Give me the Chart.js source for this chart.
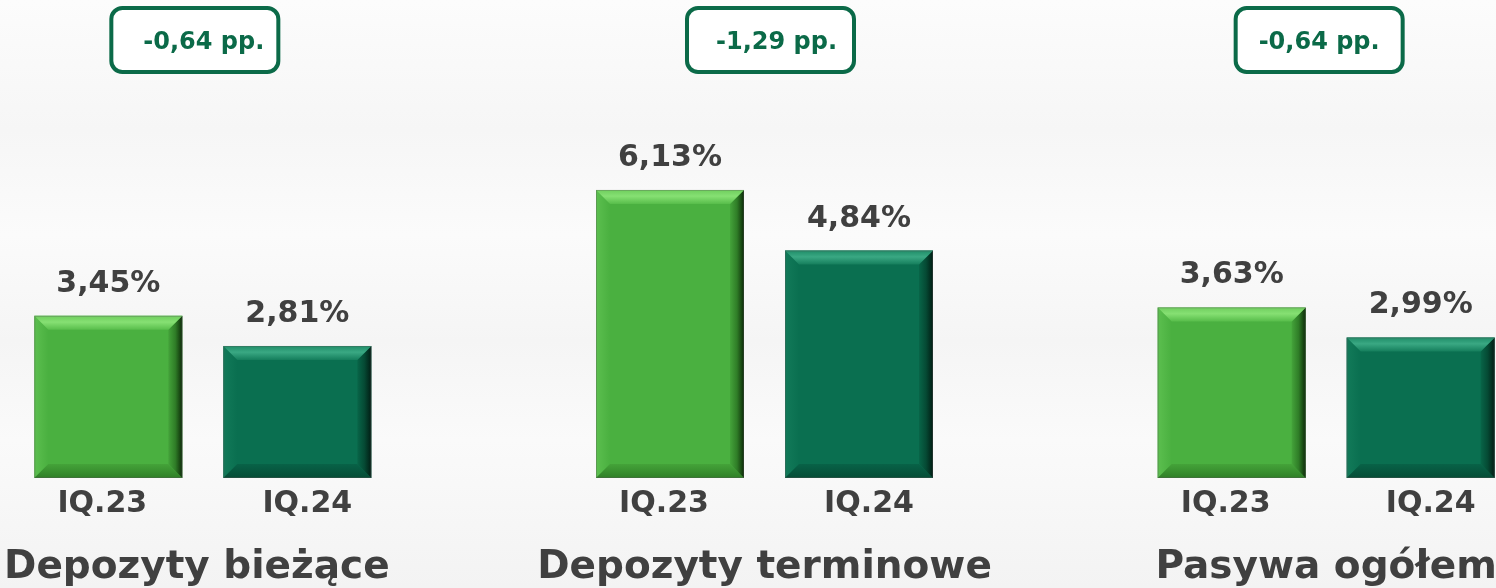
<!DOCTYPE html>
<html><head><meta charset="utf-8">
<script src="https://cdn.jsdelivr.net/npm/chart.js@4"></script>
<style>
html,body{margin:0;padding:0;width:1496px;height:588px;overflow:hidden;}
#wrap{position:relative;width:1496px;height:588px;overflow:hidden;
 background:linear-gradient(180deg,#fcfcfc 0%,#f6f6f6 22%,#fbfbfb 40%,#f5f5f5 58%,#fafafa 75%,#f3f3f3 100%);}
#c{position:absolute;left:-78px;top:0;}
</style></head><body>
<div id="wrap"><canvas id="c" width="1685" height="588"></canvas></div>
<script>
const categories = ['Depozyty bieżące', 'Depozyty terminowe', 'Pasywa ogółem'];
const seriesNames = ['IQ.23', 'IQ.24'];
const valuesIQ23 = [3.45, 6.13, 3.63];
const valuesIQ24 = [2.81, 4.84, 2.99];
const changes = ['-0,64 pp.', '-1,29 pp.', '-0,64 pp.'];

const FONT = '"DejaVu Sans", sans-serif';
const TEXT = '#404040';
const BOXC = '#0b6a48';

function fmt(v){ return v.toFixed(2).replace('.', ',') + '%'; }

function poly(ctx, pts, fill){
  ctx.beginPath();
  ctx.moveTo(pts[0][0], pts[0][1]);
  for (let i=1;i<pts.length;i++) ctx.lineTo(pts[i][0], pts[i][1]);
  ctx.closePath();
  ctx.fillStyle = fill;
  ctx.fill();
}

const bevelPlugin = {
  id: 'bevel',
  afterDatasetsDraw(chart){
    const ctx = chart.ctx;
    ctx.save();
    chart.data.datasets.forEach((ds, di) => {
      const meta = chart.getDatasetMeta(di);
      const bv = ds.bevel;
      meta.data.forEach(bar => {
        const p = bar.getProps(['x','y','base','width'], true);
        const l = p.x - p.width/2, r = p.x + p.width/2, t = p.y, b = p.base, d = 14;
        // left
        let g = ctx.createLinearGradient(l,0,l+d,0);
        g.addColorStop(0, bv.left0); g.addColorStop(1, bv.left1);
        poly(ctx, [[l,t],[l+d,t+d],[l+d,b-d],[l,b]], g);
        // bottom
        g = ctx.createLinearGradient(0,b-d,0,b);
        g.addColorStop(0, bv.bot0); g.addColorStop(1, bv.bot1);
        poly(ctx, [[l,b],[l+d,b-d],[r-d,b-d],[r,b]], g);
        // right
        g = ctx.createLinearGradient(r-d,0,r,0);
        g.addColorStop(0, bv.right0); g.addColorStop(0.5, bv.rightm); g.addColorStop(1, bv.right1);
        poly(ctx, [[r,t],[r,b],[r-d,b-d],[r-d,t+d]], g);
        // top
        g = ctx.createLinearGradient(0,t,0,t+d);
        g.addColorStop(0, bv.top0); g.addColorStop(0.45, bv.topm); g.addColorStop(1, bv.top1);
        poly(ctx, [[l,t],[r,t],[r-d,t+d],[l+d,t+d]], g);
        ctx.strokeStyle = 'rgba(90,90,90,0.35)';
        ctx.lineWidth = 1;
        ctx.strokeRect(l+0.5, t+0.5, p.width-1, b-t-1);
      });
    });
    ctx.restore();
  }
};

const labelPlugin = {
  id: 'labels',
  afterDraw(chart){
    const ctx = chart.ctx;
    const xs = chart.scales.x;
    ctx.save();
    ctx.textAlign = 'center';
    ctx.textBaseline = 'alphabetic';
    const nameOffset = [-6, 10];
    const catOffset = [-6, 0, 0];
    const boxOffset = [-8, 6, -7];
    const boxTextOffset = [9, 6, 0];
    chart.data.datasets.forEach((ds, di) => {
      const meta = chart.getDatasetMeta(di);
      meta.data.forEach((bar, i) => {
        ctx.fillStyle = TEXT;
        ctx.font = 'bold 30px ' + FONT;
        ctx.fillText(fmt(ds.data[i]), bar.x, bar.y - 24);
        ctx.font = 'bold 30px ' + FONT;
        ctx.fillText(ds.label, bar.x + nameOffset[di], 512);
      });
    });
    categories.forEach((c, i) => {
      const cx = xs.getPixelForValue(i);
      ctx.fillStyle = TEXT;
      ctx.font = 'bold 39px ' + FONT;
      ctx.fillText(c, cx + catOffset[i], 578);
      // change box
      const bw = 167, bh = 64, bcx = cx + boxOffset[i], by = 8;
      ctx.beginPath();
      ctx.roundRect(bcx - bw/2, by, bw, bh, 11);
      ctx.fillStyle = '#ffffff';
      ctx.fill();
      ctx.lineWidth = 4;
      ctx.strokeStyle = BOXC;
      ctx.stroke();
      ctx.fillStyle = BOXC;
      ctx.font = 'bold 24px ' + FONT;
      ctx.fillText(changes[i], bcx + boxTextOffset[i], 49);
    });
    ctx.restore();
  }
};

new Chart(document.getElementById('c'), {
  type: 'bar',
  data: {
    labels: categories,
    datasets: [
      { label: seriesNames[0], data: valuesIQ23, backgroundColor: '#4ab040', borderWidth: 0,
        bevel: {top0:'#6fce5e', topm:'#86e073', top1:'#58bd4b', right0:'#44a33a', rightm:'#2f7d27', right1:'#0c2a08',
                bot0:'#44a339', bot1:'#2f7f27', left0:'#5cbf4f', left1:'#4ab040'} },
      { label: seriesNames[1], data: valuesIQ24, backgroundColor: '#0a6f50', borderWidth: 0,
        bevel: {top0:'#1f8d68', topm:'#3aa883', top1:'#157e5c', right0:'#086548', rightm:'#054a34', right1:'#011c13',
                bot0:'#086247', bot1:'#054c36', left0:'#127a59', left1:'#0a6f50'} }
    ]
  },
  options: {
    responsive: false,
    animation: false,
    devicePixelRatio: 1,
    layout: { padding: { top: 8, bottom: 110, left: 0, right: 0 } },
    datasets: { bar: { categoryPercentage: 0.673, barPercentage: 0.783 } },
    plugins: { legend: { display: false }, tooltip: { enabled: false } },
    scales: {
      x: { display: false, offset: true },
      y: { display: false, min: 0, max: 10 }
    }
  },
  plugins: [bevelPlugin, labelPlugin]
});
</script>
</body></html>
